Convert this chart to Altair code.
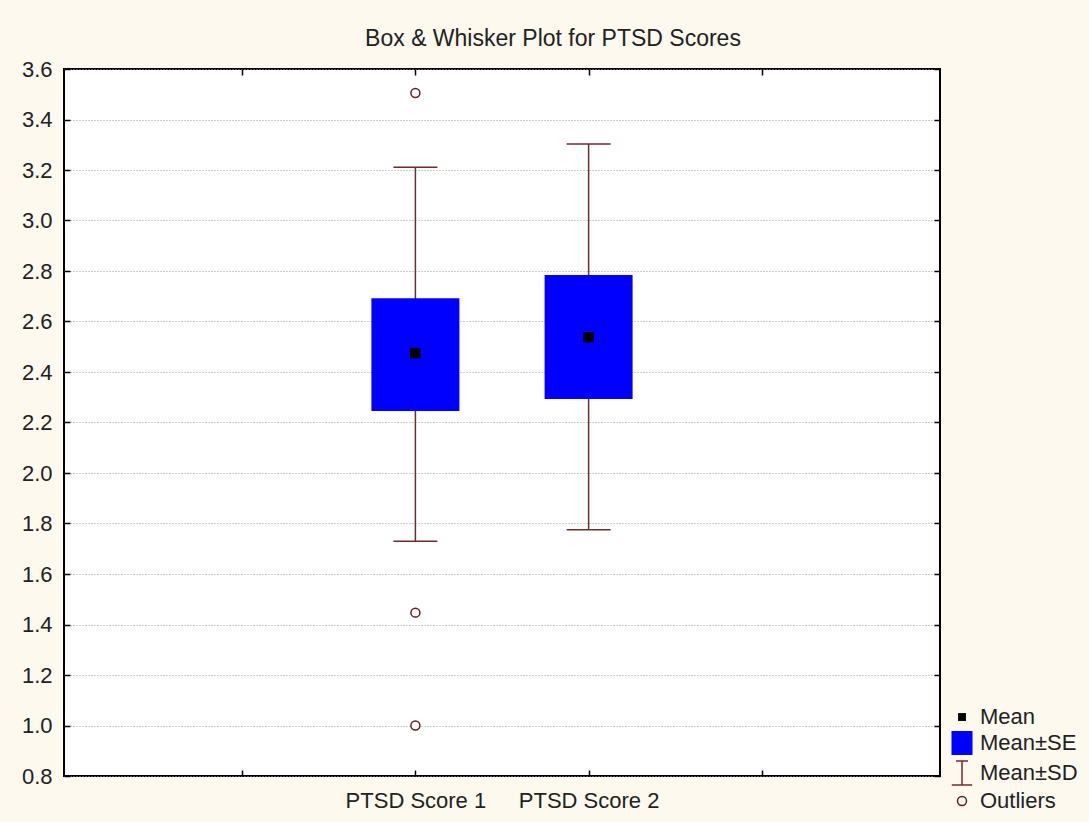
import altair as alt
import pandas as pd

# ---- data ----
categories = ["PTSD Score 1", "PTSD Score 2"]
slots = [2, 3]
means = [2.475, 2.538]
se_low = [2.246, 2.293]
se_high = [2.692, 2.784]
sd_low = [1.730, 1.775]
sd_high = [3.211, 3.303]
outlier_category = ["PTSD Score 1", "PTSD Score 1", "PTSD Score 1"]
outlier_values = [3.505, 1.447, 1.000]
x_ticks = [1, 2, 3, 4]
y_ticks = [0.8, 1.0, 1.2, 1.4, 1.6, 1.8, 2.0, 2.2, 2.4, 2.6, 2.8, 3.0, 3.2, 3.4, 3.6]
legend_items = ["Mean", "Mean\u00b1SE", "Mean\u00b1SD", "Outliers"]

# ---- styles ----
FONT = "Liberation Sans"
TXT = "#222222"
WHISKER = "#6b2e2e"
OUTLIER = "#5e2020"
BLUE = "#0000ff"
W, H = 876, 707

summary = pd.DataFrame({
    "category": categories, "slot": slots, "mean": means,
    "se_low": se_low, "se_high": se_high, "sd_low": sd_low, "sd_high": sd_high,
})
slot_of = dict(zip(categories, slots))
outliers = pd.DataFrame({"category": outlier_category, "value": outlier_values})
outliers["slot"] = outliers["category"].map(slot_of)
legend_df = pd.DataFrame({"item": legend_items})

xscale = alt.Scale(domain=[0, 5], nice=False, zero=False)
yscale = alt.Scale(domain=[0.8, 3.6], nice=False, zero=False)

label_expr = " : ".join(
    f"datum.value == {s} ? '{c}'" for s, c in zip(slots, categories)
) + " : ''"

tick_common = dict(labels=False, domain=False, grid=False, ticks=True, tickSize=6,
                   tickWidth=1.5, tickColor="black", title=None)

axis_y_labels = alt.Axis(orient="left", values=y_ticks, format=".1f", labelFontSize=22,
                         labelFont=FONT, labelColor=TXT, labelPadding=12, ticks=False,
                         tickSize=0, domain=False, grid=True, gridColor="#9a9a9a",
                         gridDash=[1, 2], gridWidth=1, title=None, labelFlush=False,
                         labelOverlap=False)
axis_y_in_left = alt.Axis(orient="right", offset=-W, values=y_ticks, **tick_common)
axis_y_in_right = alt.Axis(orient="left", offset=-W, values=y_ticks, **tick_common)
axis_x_labels = alt.Axis(orient="bottom", values=slots, labelExpr=label_expr, labelFontSize=22,
                         labelFont=FONT, labelColor=TXT, labelPadding=14, ticks=False,
                         tickSize=0, domain=False, grid=False, title=None, labelFlush=False,
                         labelOverlap=False)
axis_x_in_bottom = alt.Axis(orient="top", offset=-H, values=x_ticks, **tick_common)
axis_x_in_top = alt.Axis(orient="bottom", offset=-H, values=x_ticks, **tick_common)

base = alt.Chart(summary)

whiskers = base.mark_rule(color=WHISKER, strokeWidth=1.5).encode(
    x=alt.X("slot:Q", scale=xscale, axis=axis_x_labels),
    y=alt.Y("sd_low:Q", scale=yscale, axis=axis_y_labels),
    y2="sd_high:Q",
)
caps_hi = base.mark_tick(orient="horizontal", size=44, thickness=1.5, color=WHISKER, opacity=1).encode(
    x=alt.X("slot:Q", scale=xscale, axis=axis_x_in_bottom),
    y=alt.Y("sd_high:Q", scale=yscale, axis=axis_y_in_left),
)
caps_lo = base.mark_tick(orient="horizontal", size=44, thickness=1.5, color=WHISKER, opacity=1).encode(
    x=alt.X("slot:Q", scale=xscale, axis=axis_x_in_top),
    y=alt.Y("sd_low:Q", scale=yscale, axis=axis_y_in_right),
)
boxes = base.mark_bar(size=88, color=BLUE).encode(
    x=alt.X("slot:Q", scale=xscale, axis=None),
    y=alt.Y("se_low:Q", scale=yscale, axis=None),
    y2="se_high:Q",
)
mean_pts = base.mark_square(size=110, color="black", filled=True, opacity=1).encode(
    x=alt.X("slot:Q", scale=xscale, axis=None),
    y=alt.Y("mean:Q", scale=yscale, axis=None),
)
outlier_pts = alt.Chart(outliers).mark_point(shape="circle", size=80, filled=True, fill="white",
                                             stroke=OUTLIER, strokeWidth=1.5, opacity=1).encode(
    x=alt.X("slot:Q", scale=xscale, axis=None),
    y=alt.Y("value:Q", scale=yscale, axis=None),
)

# legend symbols (custom paths in the [-1, 1] unit box)
legend_shapes = [
    "M-0.33,-0.33H0.33V0.33H-0.33Z",
    "M-0.875,-1H0.875V1H-0.875Z",
    "M-0.5,-1H0.5M0,-1V1M-0.85,1H0.85",
    "M0.375,0A0.375,0.375,0,1,1,-0.375,0A0.375,0.375,0,1,1,0.375,0Z",
]
legend_fill = ["#000000", BLUE, "transparent", "transparent"]
legend_stroke = ["transparent", "transparent", WHISKER, OUTLIER]

def leg():
    return alt.Legend(orient="none", legendX=885, legendY=635, symbolSize=576,
                      symbolStrokeWidth=1.5, labelFontSize=22, labelFont=FONT,
                      labelColor=TXT, labelOffset=5, rowPadding=0, padding=0,
                      symbolOpacity=1, labelLimit=200)

legend_layer = alt.Chart(legend_df).transform_filter("false").mark_point(filled=True).encode(
    shape=alt.Shape("item:N", title=None, scale=alt.Scale(domain=legend_items, range=legend_shapes), legend=leg()),
    fill=alt.Fill("item:N", title=None, scale=alt.Scale(domain=legend_items, range=legend_fill), legend=leg()),
    stroke=alt.Stroke("item:N", title=None, scale=alt.Scale(domain=legend_items, range=legend_stroke), legend=leg()),
)

chart = alt.layer(
    whiskers, caps_hi, caps_lo, boxes, mean_pts, outlier_pts, legend_layer
).resolve_axis(
    x="independent", y="independent"
).properties(
    width=W, height=H,
    padding={"left": 64, "top": 69, "right": 149, "bottom": 46},
    autosize=alt.AutoSizeParams(type="none"),
    view=alt.ViewBackground(fill="#ffffff", stroke="#000000", strokeWidth=2),
    title=alt.TitleParams(text="Box & Whisker Plot for PTSD Scores", fontSize=23, font=FONT,
                          fontWeight="normal", color=TXT, anchor="middle", dx=51, offset=7),
).configure(
    background="#fdf9ef", font=FONT
)

chart.save("out.html", embed_options={"renderer": "svg", "actions": False})
